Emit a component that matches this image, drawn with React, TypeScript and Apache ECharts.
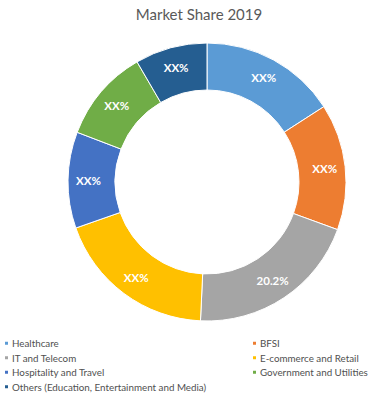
import React, { useEffect, useRef } from "react";
import * as echarts from "echarts";

const categories = [
  "Healthcare",
  "BFSI",
  "IT and Telecom",
  "E-commerce and Retail",
  "Hospitality and Travel",
  "Government and Utilities",
  "Others (Education, Entertainment and Media)",
];
const shares = [15.9, 14.7, 20.2, 18.9, 11.2, 10.8, 8.4];
const labelTexts = ["XX%", "XX%", "20.2%", "XX%", "XX%", "XX%", "XX%"];
const colors = ["#5B9BD5", "#ED7D31", "#A5A5A5", "#FFC000", "#4472C4", "#70AD47", "#255E91"];
const leftLegend = [categories[0], categories[2], categories[4], categories[6]];
const rightLegend = [categories[1], categories[3], categories[5]];

export default function App() {
  const ref = useRef<HTMLDivElement>(null);
  useEffect(() => {
    if (!ref.current) return;
    const chart = echarts.init(ref.current, null, { renderer: "svg" });
    const font = "Lato, 'Open Sans', sans-serif";
    const legendCommon = {
      orient: "vertical" as const,
      top: 338.3,
      itemWidth: 5,
      itemHeight: 5,
      itemGap: 4.5,
      icon: "rect",
      textStyle: { fontFamily: font, fontSize: 9.8, color: "#505050", padding: [0, 0, 0, -2], lineHeight: 10 },
      padding: 0,
      selectedMode: false,
    };
    chart.setOption({
      animation: false,
      color: colors,
      title: {
        text: "Market Share 2019",
        left: 194,
        textAlign: "center",
        top: 1,
        textStyle: { fontFamily: font, fontSize: 15, fontWeight: "normal", color: "#595959" },
      },
      legend: [
        { ...legendCommon, left: 3, data: leftLegend },
        { ...legendCommon, left: 251, data: rightLegend },
      ],
      series: [
        {
          type: "pie",
          center: [207, 182],
          radius: [92, 139],
          startAngle: 90,
          clockwise: true,
          itemStyle: { borderColor: "#ffffff", borderWidth: 1 },
          label: {
            show: true,
            position: "inside",
            fontFamily: font,
            fontSize: 11.5,
            fontWeight: "bold",
            color: "#ffffff",
            formatter: (p: any) => labelTexts[p.dataIndex],
          },
          labelLine: { show: false },
          emphasis: { disabled: true },
          data: categories.map((name, i) => ({ name, value: shares[i] })),
        },
      ],
    });
    return () => chart.dispose();
  }, []);
  return <div ref={ref} style={{ width: 368, height: 394, position: "absolute", left: 0, top: 0 }} />;
}
